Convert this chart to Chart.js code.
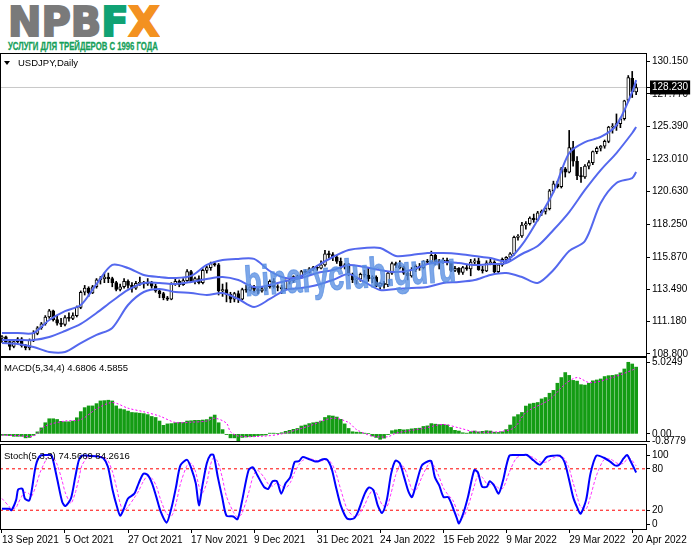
<!DOCTYPE html>
<html><head><meta charset="utf-8">
<script src="https://cdn.jsdelivr.net/npm/chart.js@4.4.1/dist/chart.umd.min.js"></script>
<style>
html,body{margin:0;padding:0;background:#fff;}
body{width:691px;height:549px;position:relative;overflow:hidden;font-family:"Liberation Sans",Arial,sans-serif;}
.abs{position:absolute;white-space:nowrap;}
canvas{position:absolute;left:0;}
.pane{position:absolute;left:0;border:1px solid #000;box-sizing:border-box;pointer-events:none;}
.lbl{position:absolute;font:9.5px "Liberation Sans",Arial,sans-serif;color:#000;white-space:nowrap;line-height:1;}
</style></head><body>

<div id="logo" class="abs" style="left:8px;top:2px;font:bold 41px 'DejaVu Sans',sans-serif;line-height:1;color:#7a7a7a;-webkit-text-stroke:2px #7a7a7a;transform-origin:0 0;">NPB<span style="color:#10a274;-webkit-text-stroke:2px #10a274">F</span><span style="color:#f39121;-webkit-text-stroke:2px #f39121">X</span></div>
<div id="tag" class="abs" style="left:8px;top:41px;font:bold 11px 'Liberation Sans Narrow','Liberation Sans',sans-serif;line-height:1;color:#15a05a;-webkit-text-stroke:0.3px #15a05a;transform-origin:0 0;">УСЛУГИ ДЛЯ ТРЕЙДЕРОВ С 1996 ГОДА</div>

<canvas id="cMain" width="691" height="322" style="top:44px"></canvas>
<canvas id="cMacd" width="691" height="103" style="top:348px"></canvas>
<canvas id="cStoch" width="691" height="114" style="top:435px"></canvas>

<div class="pane" style="top:53px;width:647px;height:304px"></div>
<div class="pane" style="top:357px;width:647px;height:85px"></div>
<div class="pane" style="top:444px;width:647px;height:86px"></div>

<div class="abs" style="left:4px;top:61px;width:0;height:0;border-left:3.5px solid transparent;border-right:3.5px solid transparent;border-top:4px solid #000;"></div>
<div class="lbl" style="left:18px;top:58px">USDJPY,Daily</div>
<div class="lbl" style="left:4px;top:363px">MACD(5,34,4) 4.6806 4.5855</div>
<div class="lbl" style="left:4px;top:451px">Stoch(5,3,3) 74.5669 84.2616</div>

<div id="wm" class="abs" style="left:243px;top:261px;font:bold 30px 'Liberation Sans',sans-serif;line-height:1;color:rgba(88,142,225,0.78);-webkit-text-stroke:0.8px rgba(88,142,225,0.78);transform-origin:0 0;">binaryclub.guru</div>

<script>
// ---------- DATA ----------
const opens = [
109.95,110.05,109.70,109.35,109.70,109.90,109.40,109.25,109.80,110.30,
110.70,111.00,111.50,111.95,111.30,111.05,110.95,111.45,111.40,111.60,
112.20,113.30,113.60,113.25,113.70,114.20,114.30,114.40,114.30,114.00,
113.50,113.70,114.10,113.80,113.60,113.95,114.00,113.90,114.05,113.75,
113.40,113.20,112.90,112.80,113.90,114.10,113.85,114.15,114.80,114.10,
114.30,114.00,114.90,115.10,115.40,115.30,113.40,113.50,113.15,112.80,
113.20,112.80,113.50,113.45,113.70,113.50,113.40,113.55,113.70,114.10,
113.70,113.65,113.55,114.10,114.15,114.45,114.35,114.80,114.75,115.00,
115.10,115.05,115.30,116.10,116.05,115.85,115.55,115.20,115.30,114.60,
114.20,114.25,114.60,114.55,114.30,114.40,113.75,113.95,113.85,114.70,
115.40,115.25,115.10,114.70,114.50,114.95,115.20,115.10,115.55,115.50,
116.00,115.45,115.55,115.65,115.45,114.90,115.05,114.75,115.10,115.00,
115.50,115.60,114.95,114.85,115.45,115.50,114.80,115.30,115.70,115.85,
116.10,117.30,117.40,118.20,118.30,118.70,118.60,119.10,119.20,119.40,
120.70,121.20,121.00,122.30,122.05,123.85,122.85,121.80,121.70,122.50,
122.75,123.55,123.80,123.95,124.30,125.35,125.40,125.60,125.95,127.30,
128.90,127.90];
const highs = [
110.15,110.10,109.80,109.80,110.00,110.00,109.50,109.90,110.50,110.80,
111.10,111.60,112.05,112.00,111.60,111.40,111.60,111.80,111.80,112.30,
113.40,113.80,113.70,113.80,114.30,114.45,114.70,114.70,114.40,114.10,
113.90,114.30,114.20,114.00,114.10,114.40,114.10,114.30,114.10,113.90,
113.50,113.30,113.00,114.00,114.30,114.20,114.30,114.95,114.90,114.40,
114.50,115.00,115.20,115.50,115.55,115.40,113.90,114.00,113.30,113.30,
113.40,113.60,113.80,113.90,113.80,113.70,113.70,113.80,114.20,114.30,
113.85,113.80,114.20,114.30,114.50,114.55,114.90,114.95,115.10,115.20,
115.25,115.60,116.35,116.30,116.20,116.00,115.80,115.40,115.40,114.70,
114.35,114.70,114.90,115.05,114.50,114.50,114.00,114.10,114.80,115.50,
115.50,115.60,115.20,114.80,115.10,115.30,115.40,115.60,115.70,116.30,
116.10,115.70,115.80,115.80,115.50,115.20,115.10,115.20,115.30,115.70,
115.75,115.80,115.20,115.60,115.80,115.60,115.40,115.80,115.90,116.20,
117.40,117.50,118.40,118.45,118.80,119.00,119.20,119.30,119.50,120.80,
121.40,121.40,122.40,122.40,125.10,124.30,123.20,122.40,122.60,122.90,
123.60,123.90,124.00,124.40,125.40,125.60,126.30,126.00,127.30,129.10,
129.40,128.50];
const lows = [
109.65,109.60,109.10,109.25,109.60,109.30,109.10,109.10,109.70,110.20,
110.60,110.90,111.40,111.20,110.90,110.80,110.85,111.20,111.30,111.50,
112.10,113.10,113.00,113.20,113.60,113.90,114.00,114.00,113.70,113.40,
113.40,113.60,113.60,113.30,113.50,113.80,113.60,113.80,113.60,113.30,
112.90,112.75,112.70,112.75,113.80,113.70,113.80,114.10,114.00,113.90,
113.90,113.90,114.70,114.90,115.20,113.10,113.00,112.60,112.55,112.60,
112.55,112.75,113.30,113.40,113.30,113.20,113.30,113.40,113.60,113.60,
113.40,113.20,113.50,113.90,114.00,114.30,114.30,114.60,114.70,114.90,
114.90,115.00,115.20,115.80,115.60,115.40,115.00,115.00,114.50,114.00,
113.90,114.10,114.40,114.10,114.00,113.70,113.50,113.60,113.70,114.60,
115.10,115.00,114.60,114.20,114.40,114.80,114.90,115.00,115.40,115.45,
115.30,115.00,115.40,115.30,114.80,114.80,114.60,114.60,114.90,114.50,
115.30,114.90,114.70,114.80,115.30,114.70,114.70,115.20,115.50,115.70,
116.00,117.10,117.30,117.90,118.20,118.40,118.50,118.90,119.00,119.30,
120.60,120.90,120.90,121.70,122.00,122.50,121.50,121.30,121.60,122.30,
122.60,123.40,123.60,123.80,124.20,124.90,125.10,125.30,125.85,127.20,
127.50,127.70];
const closes = [
110.05,109.70,109.35,109.70,109.90,109.40,109.25,109.80,110.30,110.70,
111.00,111.50,111.95,111.30,111.05,110.95,111.45,111.40,111.60,112.20,
113.30,113.60,113.25,113.70,114.20,114.30,114.40,114.30,114.00,113.50,
113.70,114.10,113.80,113.60,113.95,114.00,113.90,114.05,113.75,113.40,
113.20,112.90,112.80,113.90,114.10,113.85,114.15,114.80,114.10,114.30,
114.00,114.90,115.10,115.40,115.30,113.40,113.50,113.15,112.80,113.20,
112.80,113.50,113.45,113.70,113.50,113.40,113.55,113.70,114.10,113.70,
113.65,113.55,114.10,114.15,114.45,114.35,114.80,114.75,115.00,115.10,
115.05,115.30,116.10,116.05,115.85,115.55,115.20,115.30,114.60,114.20,
114.25,114.60,114.55,114.30,114.40,113.75,113.95,113.85,114.70,115.40,
115.25,115.10,114.70,114.50,114.95,115.20,115.10,115.55,115.50,116.00,
115.45,115.55,115.65,115.45,114.90,115.05,114.75,115.10,115.00,115.50,
115.60,114.95,114.85,115.45,115.50,114.80,115.30,115.70,115.85,116.10,
117.30,117.40,118.20,118.30,118.70,118.60,119.10,119.20,119.40,120.70,
121.20,121.00,122.30,122.05,123.85,122.85,121.80,121.70,122.50,122.75,
123.55,123.80,123.95,124.30,125.35,125.40,125.60,125.95,127.25,128.95,
127.90,128.23];
const lastPrice = 128.23;

// Bollinger bands read at every 4th bar
const bandIdx = [0,4,8,12,16,20,24,28,32,36,40,44,48,52,56,60,64,68,72,76,80,84,88,92,96,100,104,108,112,116,120,124,128,132,136,140,144,148,152,156,160,161];
const bbUpper = [110.33,110.33,110.33,111.28,111.93,112.37,113.90,115.29,115.07,114.56,114.41,114.34,114.49,115.29,115.65,115.73,115.73,114.85,114.34,114.49,115.22,115.87,116.38,116.53,116.53,115.94,116.02,116.16,116.16,116.09,115.94,115.80,115.58,116.75,118.57,120.61,123.45,124.25,124.62,125.49,127.90,128.77];
const bbMiddle = [109.82,109.82,109.82,110.04,110.48,110.99,111.79,112.66,113.47,113.98,113.98,113.90,114.05,114.27,114.41,114.19,113.68,113.83,114.12,114.34,114.70,114.92,115.29,115.14,114.92,114.78,114.92,115.36,115.51,115.43,115.29,115.36,115.43,116.09,116.67,117.84,119.15,120.76,122.21,123.45,124.91,125.35];
const bbLower = [109.60,109.53,109.31,108.95,108.95,109.60,110.19,110.70,112.37,113.32,113.54,113.32,113.25,113.10,113.25,112.81,112.23,112.81,113.47,113.61,113.83,114.19,114.63,114.05,113.47,113.54,113.61,113.68,113.98,114.05,114.19,114.56,114.70,114.41,113.98,114.92,116.31,117.04,119.81,121.27,121.63,122.07];

// MACD histogram (one per bar) and signal line
const macdHist = [
-0.10,-0.10,-0.12,-0.17,-0.17,-0.17,-0.28,-0.25,-0.10,0.14,
0.42,0.78,1.06,1.06,1.01,0.88,0.85,0.85,0.90,1.13,
1.56,1.84,1.96,1.96,2.12,2.31,2.33,2.36,2.31,1.96,
1.75,1.70,1.60,1.50,1.48,1.45,1.42,1.35,1.22,1.15,
0.90,0.60,0.70,0.72,0.78,0.80,0.80,0.90,0.92,0.95,
0.95,0.97,1.00,1.18,1.32,0.78,0.30,-0.05,-0.28,-0.28,
-0.52,-0.25,-0.22,-0.20,-0.18,-0.12,-0.10,-0.08,0.05,0.05,
0.03,0.08,0.18,0.25,0.32,0.38,0.55,0.62,0.72,0.78,
0.82,0.90,1.15,1.28,1.25,1.18,1.02,0.70,0.38,0.15,
0.12,0.10,0.05,0.03,-0.15,-0.25,-0.38,-0.30,-0.05,0.22,
0.28,0.32,0.28,0.30,0.35,0.38,0.40,0.52,0.56,0.72,
0.68,0.65,0.66,0.62,0.45,0.25,0.20,0.08,0.05,0.15,
0.20,0.14,0.18,0.22,0.20,0.12,0.10,0.15,0.30,0.62,
1.20,1.35,1.50,1.95,2.10,2.15,2.20,2.45,2.55,2.85,
3.05,3.55,3.95,4.30,4.10,3.75,3.70,3.45,3.42,3.55,
3.72,3.78,3.85,4.02,4.08,4.10,4.15,4.28,4.55,5.02,
4.90,4.68];
const sigIdx = [0,4,8,11,16,20,24,28,32,36,40,44,48,52,54,57,58,60,66,71,78,84,88,90,94,98,100,107,112,116,120,126,130,133,139,143,146,149,152,155,158,161];
const macdSignal = [-0.08,-0.12,-0.15,0.55,0.9,1.0,1.75,2.2,1.8,1.55,1.25,0.8,0.82,0.9,1.1,0.75,0.15,-0.15,-0.17,0.0,0.55,1.1,0.8,0.3,-0.15,-0.2,0.05,0.38,0.66,0.42,0.15,0.15,0.42,1.5,2.4,3.5,3.95,3.6,3.7,3.95,4.25,4.5855];

// Stochastic %K / %D
const stochIdx = [0,1.9,2.4,3.6,4.1,5.2,5.8,6.9,7.5,8.6,9.7,11.4,12.5,13.0,14.1,15.3,16.1,17.5,18.6,19.5,20.3,21.9,24.2,25.8,26.9,28.1,29.2,30.0,30.8,32.0,33.6,34.7,35.9,37.0,38.1,39.2,40.3,41.8,43.1,44.2,45.3,47.0,48.1,49.2,50.0,50.9,52.0,52.9,53.7,54.8,55.9,57.0,58.7,59.8,60.9,62.6,63.7,64.8,66.5,67.6,68.7,69.8,70.9,72.0,73.2,74.3,75.4,76.3,77.6,79.3,80.4,81.5,82.6,83.7,84.9,86.0,87.6,89.3,90.4,92.1,93.2,94.3,95.4,96.5,97.7,98.8,99.9,101.0,102.1,103.2,104.1,105.2,106.6,108.2,109.0,109.9,111.0,112.1,113.3,114.4,115.5,116.0,117.1,118.3,119.9,120.8,121.9,123.1,123.8,124.9,126.1,127.2,128.8,130.5,132.2,133.3,135.0,136.6,138.3,140.0,141.6,142.8,143.9,145.0,146.1,146.9,148.3,149.4,150.9,152.8,154.5,155.6,156.7,157.8,158.7,159.5,161];
const stochK = [22,22,20,35,50,51,37,34,47,85,99,100,100,92,63,32,26,37,68,92,99,99,98,95,83,49,25,12,20,37,44,59,73,71,59,39,18,2,25,54,85,93,80,59,27,56,88,100,100,68,39,12,11,7,32,78,82,71,54,51,62,62,44,59,68,90,91,97,95,91,91,94,93,80,51,27,8,8,18,44,53,49,27,16,35,73,92,88,68,47,39,59,85,91,91,68,56,39,39,25,8,1,15,39,78,75,54,54,62,56,44,63,99,100,100,100,92,86,97,99,99,90,66,39,23,15,35,73,99,96,90,85,86,95,100,92,74.57];
const stochD = [37,25,22,24,30,42,46,44,40,55,75,95,99,97,85,62,45,30,45,65,85,97,98,97,92,75,50,30,19,25,38,48,62,70,66,55,35,15,12,30,58,85,88,75,55,45,60,85,96,90,68,40,18,10,15,45,68,78,68,58,55,60,55,52,60,75,86,92,95,93,91,92,93,88,72,50,22,11,12,28,42,50,42,28,25,45,70,85,82,65,50,50,68,86,89,82,68,52,42,35,20,12,10,25,55,70,68,58,57,58,52,52,75,95,100,100,96,90,90,96,98,95,82,60,38,25,22,40,70,93,94,90,87,88,94,95,84.26];
const stochLevels = [80, 20];

// Axis tick labels
const priceTicks = [130.150,127.770,128.230,125.390,123.010,120.630,118.250,115.870,113.490,111.180,108.800];
const macdTicks = [5.0249, 0.00, -0.8779];
const macdTickLabels = ['5.0249','0.00','-0.8779'];
const stochTicks = [100, 80, 20, 0];
const dateTickIdx = [0,16,32,48,64,80,96,112,128,144,160];
const dateLabels = ['13 Sep 2021','5 Oct 2021','27 Oct 2021','17 Nov 2021','9 Dec 2021','31 Dec 2021','24 Jan 2022','15 Feb 2022','9 Mar 2022','29 Mar 2022','20 Apr 2022'];

// ---------- CHARTS ----------
const X_MIN = -0.5, X_MAX = 163.5;
const FONT = {family:'Liberation Sans', size:10};
const BAND = '#5468ee';
const xy = (xs, ys) => xs.map((x,i)=>({x:x, y:ys[i]}));

function yAxis(min, max, vals, label, extraTicks) {
  return {
    type:'linear', position:'right', min:min, max:max, beginAtZero:false,
    afterBuildTicks: s => { s.ticks = vals.map(v => ({value: Math.min(Math.max(v, min), max)})); },
    afterFit: s => { s.width = 45; s.paddingTop = 0; s.paddingBottom = 0; },
    grid: {drawOnChartArea:false, drawTicks:true, tickLength:4, color:'#000', lineWidth:1},
    border: {display:true, color:'#000', width:1},
    ticks: Object.assign({autoSkip:false, padding:2, color:'#000', font:FONT,
      callback: (v, i) => label(i)}, extraTicks || {})
  };
}
const xHidden = {type:'linear', min:X_MIN, max:X_MAX, display:false, offset:false};
const base = {responsive:false, animation:false, devicePixelRatio:1,
  plugins:{legend:{display:false}, tooltip:{enabled:false}}};

// Main price pane
new Chart(document.getElementById('cMain'), {
  type:'bar',
  data:{datasets:[
    {type:'line', data:xy(bandIdx,bbUpper), borderColor:BAND, borderWidth:2, pointRadius:0, tension:0.3, order:0},
    {type:'line', data:xy(bandIdx,bbMiddle), borderColor:BAND, borderWidth:2, pointRadius:0, tension:0.3, order:0},
    {type:'line', data:xy(bandIdx,bbLower), borderColor:BAND, borderWidth:2, pointRadius:0, tension:0.3, order:0},
    {type:'bar', data:opens.map((o,i)=>({x:i, y:[o, closes[i]]})), barThickness:3, grouped:false,
      backgroundColor: c => (c.dataIndex === undefined || closes[c.dataIndex] >= opens[c.dataIndex]) ? '#fff' : '#000',
      borderColor:'#000', borderWidth:1, borderSkipped:false, minBarLength:1, order:1},
    {type:'bar', data:lows.map((l,i)=>({x:i, y:[l, highs[i]]})), barThickness:1, grouped:false,
      backgroundColor:'#000', borderWidth:0, order:2},
    {type:'line', data:[{x:X_MIN,y:lastPrice},{x:X_MAX,y:lastPrice}], borderColor:'#c8c8c8', borderWidth:1, pointRadius:0, order:3}
  ]},
  options:Object.assign({}, base, {
    layout:{padding:{top:10,bottom:10,left:0,right:0}},
    scales:{
      x: xHidden,
      y: yAxis(108.654, 130.67, priceTicks, i => priceTicks[i].toFixed(3), {
        showLabelBackdrop: c => c.tick && c.tick.value === lastPrice,
        backdropColor: c => (c.tick && c.tick.value === lastPrice) ? '#000' : 'rgba(0,0,0,0)',
        backdropPadding: {left:2, right:2, top:1, bottom:1},
        color: c => (c.tick && c.tick.value === lastPrice) ? '#fff' : '#000'
      })
    }
  })
});

// MACD pane
new Chart(document.getElementById('cMacd'), {
  type:'bar',
  data:{datasets:[
    {type:'line', data:xy(sigIdx,macdSignal), borderColor:'#ff00ff', borderWidth:1, borderDash:[2,2], pointRadius:0, tension:0.3, order:0},
    {type:'bar', data:macdHist.map((v,i)=>({x:i, y:v})), barThickness:3, backgroundColor:'#149c14', borderWidth:0, order:1}
  ]},
  options:Object.assign({}, base, {
    layout:{padding:{top:10,bottom:10,left:0,right:0}},
    scales:{ x: xHidden, y: yAxis(-0.5, 5.32, macdTicks, i => macdTickLabels[i]) }
  })
});

// Stochastic pane
new Chart(document.getElementById('cStoch'), {
  type:'line',
  data:{datasets:[
    {data:xy(stochIdx,stochK), borderColor:'#0000ff', borderWidth:2, pointRadius:0, tension:0.25, order:0},
    {data:xy(stochIdx,stochD), borderColor:'#ff33ff', borderWidth:1, borderDash:[3,2], pointRadius:0, tension:0.25, order:1},
    {data:[{x:X_MIN,y:stochLevels[0]},{x:X_MAX,y:stochLevels[0]}], borderColor:'#ff0000', borderWidth:1, borderDash:[3,3], pointRadius:0, order:2},
    {data:[{x:X_MIN,y:stochLevels[1]},{x:X_MAX,y:stochLevels[1]}], borderColor:'#ff0000', borderWidth:1, borderDash:[3,3], pointRadius:0, order:2}
  ]},
  options:Object.assign({}, base, {
    layout:{padding:{top:10,bottom:0,left:0,right:0}},
    scales:{
      x:{type:'linear', min:X_MIN, max:X_MAX, offset:false, position:'bottom',
        afterBuildTicks: s => { s.ticks = dateTickIdx.map(v => ({value:v})); },
        afterFit: s => { s.height = 20; s.paddingLeft = 0; s.paddingRight = 0; },
        grid:{drawOnChartArea:false, drawTicks:true, tickLength:4, color:'#000'},
        border:{display:true, color:'#000'},
        ticks:{autoSkip:false, maxRotation:0, minRotation:0, align:'start', padding:1, color:'#000', font:FONT,
          callback:(v,i) => dateLabels[i]}
      },
      y: yAxis(-7.2, 114.5, stochTicks, i => String(stochTicks[i]))
    }
  })
});

// fit logo / tagline / watermark widths
function fit(id, w) {
  const el = document.getElementById(id);
  el.style.transform = 'scaleX(' + (w / el.offsetWidth) + ')';
}
fit('logo', 151);
fit('tag', 150);
(function(){
  const el = document.getElementById('wm');
  const sx = 212 / el.offsetWidth;
  el.style.transform = 'rotate(-4deg) scale(' + sx + ',1.4)';
})();
</script>
</body></html>
